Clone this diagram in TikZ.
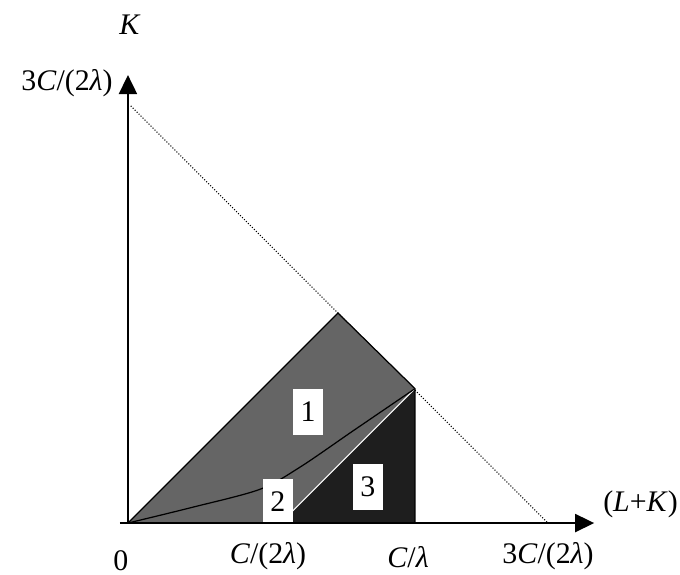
\documentclass[tikz,border=0pt]{standalone}
\usepackage{fontspec}
\setmainfont{Liberation Serif}
\usetikzlibrary{arrows.meta,positioning}
\definecolor{Shade}{HTML}{656565}
\definecolor{Deep}{HTML}{1E1E1E}
\tikzset{
  axis/.style={draw=black,line width=1.1pt,-{Triangle[length=3.8mm,width=3.6mm]}},
  bound/.style={draw=black,line width=.7pt},
  budget/.style={draw=black,line width=.6pt,densely dotted},
  split/.style={draw=white,line width=.6pt},
  tag/.style={fill=white,minimum width=.6cm,minimum height=.92cm,inner sep=0pt,font=\fontsize{17}{20}\selectfont},
  lab/.style={inner sep=0pt,font=\fontsize{17}{20}\selectfont}
}
\newcommand{\lam}{\textit{λ}}
\begin{document}
\begin{tikzpicture}[x=2.8cm,y=2.8cm]
  \useasboundingbox (-0.914,-0.371) rectangle (3.943,3.736);
  \coordinate (O) at (0,0);
  \coordinate (xstart) at (-0.057,0);
  \coordinate (xend) at (3.33,0);
  \coordinate (yend) at (0,3.2);
  \coordinate (peak) at (1.5,1.5);
  \coordinate (corner) at (2.05,0.96);
  \coordinate (foot) at (2.05,0);
  \coordinate (kink) at (1.09,0);
  \coordinate (ybud) at (0.02,2.98);
  \coordinate (xbud) at (3,0);
  % budget line
  \draw[budget] (ybud) -- (xbud);
  % shaded regions
  \fill[Shade] (O) -- (peak) -- (corner) -- (foot) -- cycle;
  \fill[Deep] (kink) -- (corner) -- (foot) -- cycle;
  \draw[split] (kink) -- (corner);
  \draw[bound] (O) -- (peak) -- (corner) -- (foot);
  \draw[bound] plot[smooth] coordinates {(0,0) (0.45,0.11) (0.94,0.24) (1.23,0.40) (1.61,0.66) (2.05,0.96)};
  \node[tag] (r1) at (1.286,0.793) {1};
  \node[tag] (r2) at (1.071,0.15) {2};
  \node[tag] (r3) at (1.714,0.257) {3};
  % axes
  \draw[axis] (xstart) -- (xend);
  \draw[axis] (O) -- (yend);
  \node[lab] (ktxt) at (0.014,3.557) {\textit{K}};
  \node[lab,anchor=east] (ytxt) at (-0.107,3.143) {3\textit{C}/(2\lam)};
  \node[lab,anchor=east] (lktxt) at (3.93,0.136) {(\textit{L}+\textit{K})};
  \node[lab] (zero) at (-0.05,-0.27) {0};
  \node[lab] (half) at (1,-0.24) {\textit{C}/(2\lam)};
  \node[lab] (full) at (2,-0.24) {\textit{C}/\lam};
  \node[lab] (most) at (3,-0.24) {3\textit{C}/(2\lam)};
\end{tikzpicture}
\end{document}
